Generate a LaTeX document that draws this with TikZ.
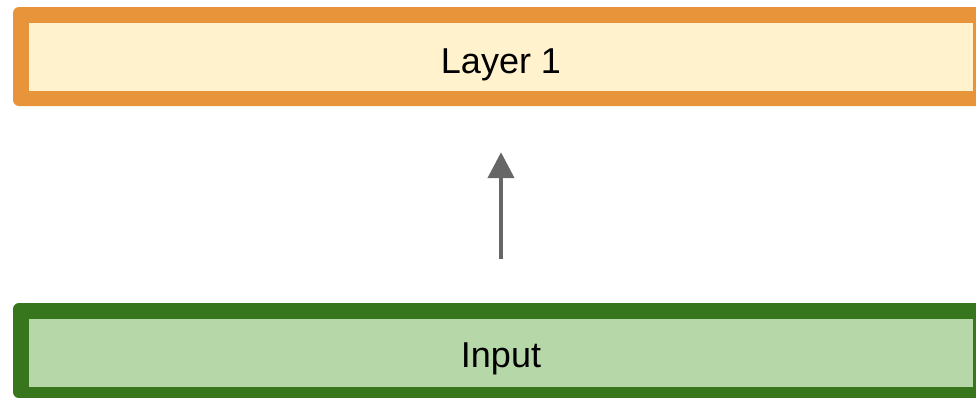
\documentclass[tikz,border=0pt]{standalone}
\usepackage{fontspec}
\setmainfont{Liberation Sans}
\usetikzlibrary{arrows.meta}
\definecolor{layerEdge}{HTML}{E8943A}
\definecolor{layerFill}{HTML}{FFF2CC}
\definecolor{inputEdge}{HTML}{38761D}
\definecolor{inputFill}{HTML}{B6D7A8}
\definecolor{arrowGray}{HTML}{666666}
\tikzset{
  frame/.style={rectangle, rounded corners=6pt, inner sep=0pt, minimum width=976pt},
  panel/.style={rectangle, inner sep=0pt, minimum width=944pt},
  caption/.style={inner sep=0pt, font=\fontsize{36}{43}\selectfont},
  flow/.style={draw=arrowGray, line width=4.5pt, -{Triangle[length=26pt,width=26pt]}}
}
\begin{document}
\begin{tikzpicture}[x=1pt,y=-1pt]
  \useasboundingbox (0,0) rectangle (976,397);
  % top layer
  \node[frame, fill=layerEdge, minimum height=99pt] (layer) at (501,56.5) {};
  \node[panel, fill=layerFill, minimum height=68pt] (layerpanel) at (501,57) {};
  \node[caption] (layertext) at (501,65) {Layer 1};
  % input layer
  \node[frame, fill=inputEdge, minimum height=95pt] (input) at (501,350.5) {};
  \node[panel, fill=inputFill, minimum height=68pt] (inputpanel) at (501,353) {};
  \node[caption] (inputtext) at (501,359) {Input};
  % connection
  \draw[flow, shorten <=44pt, shorten >=46pt] (input.north) -- (layer.south);
\end{tikzpicture}
\end{document}
